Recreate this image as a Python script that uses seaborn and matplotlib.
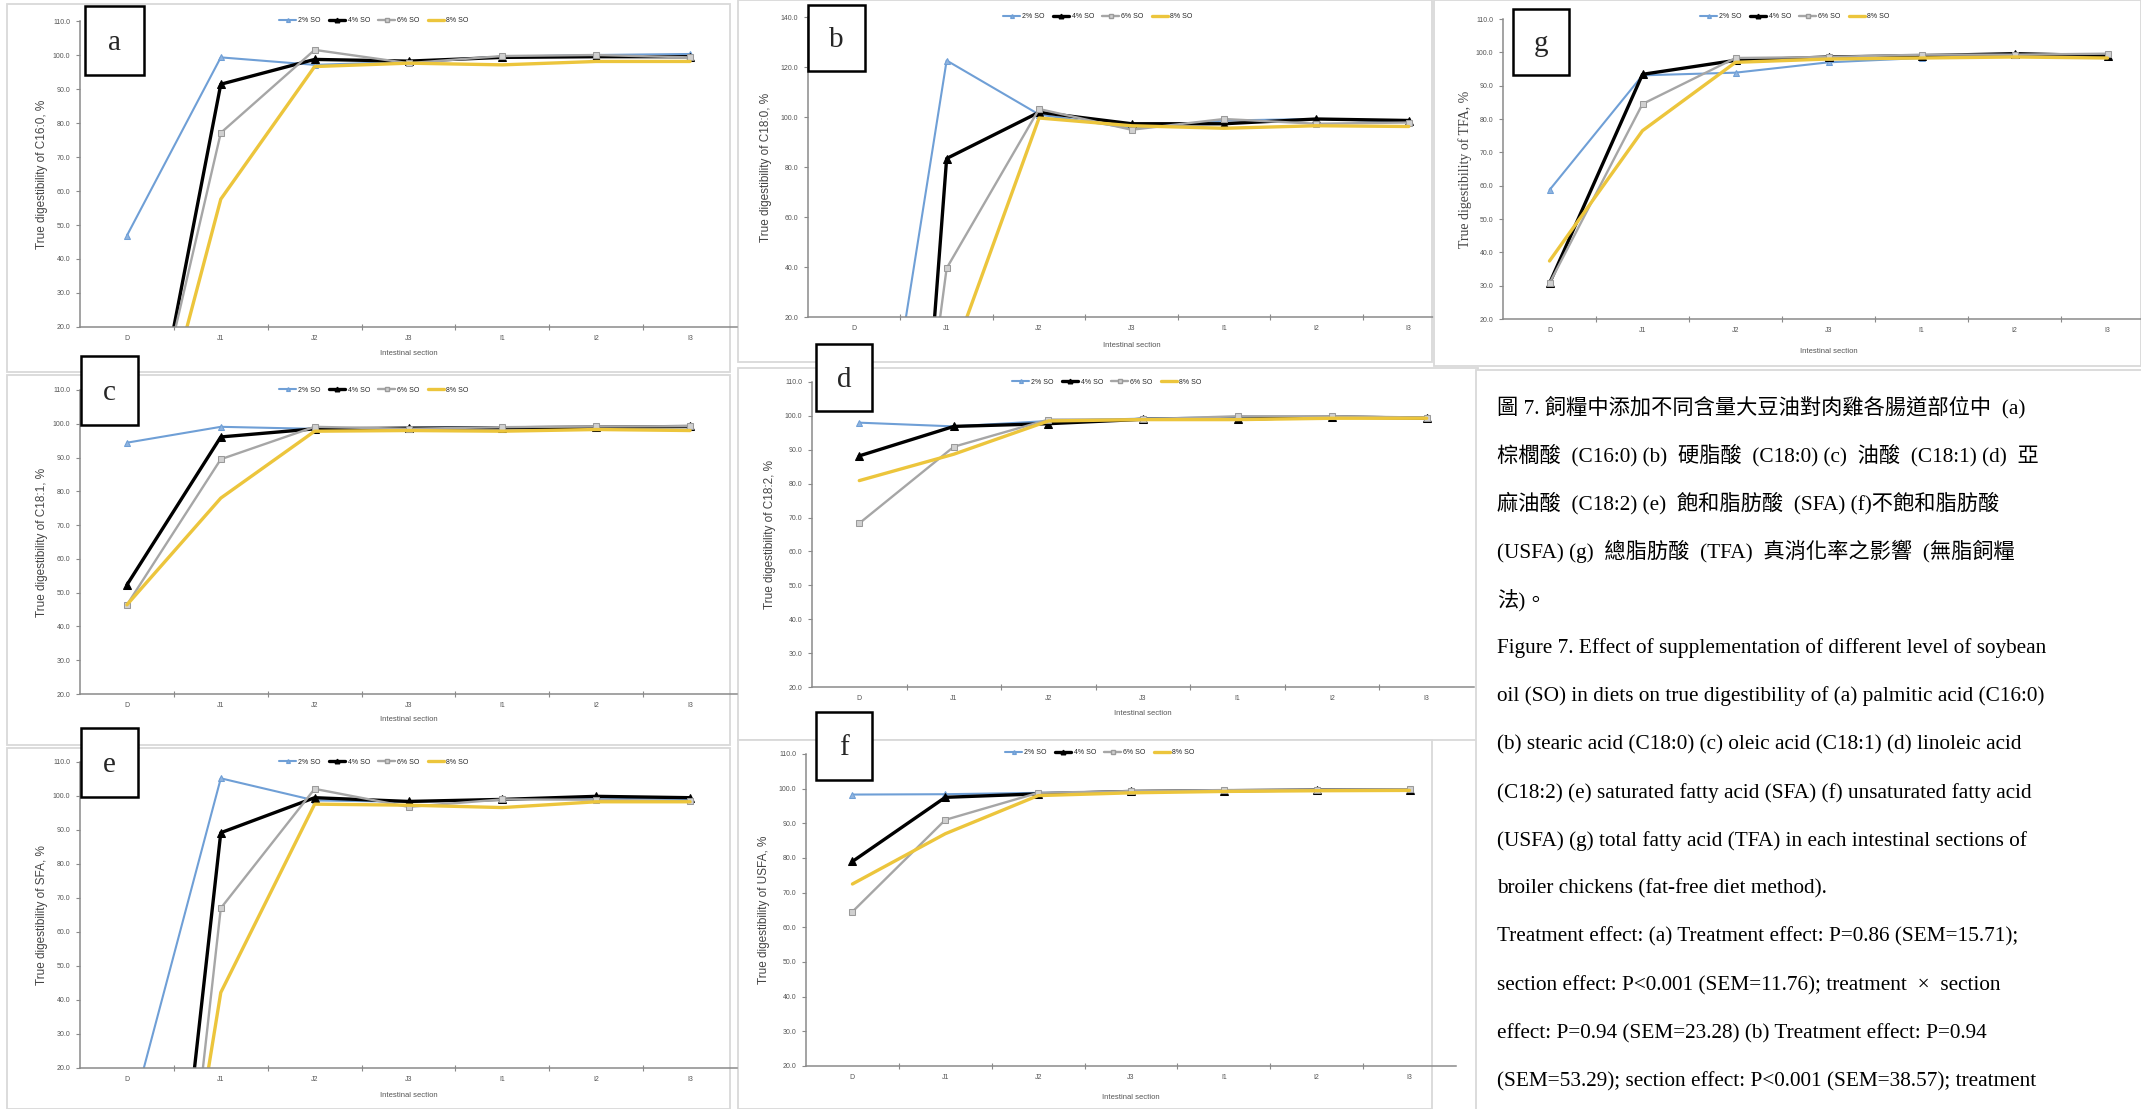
import numpy as np
import pandas as pd
import matplotlib
matplotlib.use("Agg")
import matplotlib.pyplot as plt
from matplotlib.patches import Rectangle
from matplotlib.lines import Line2D
from matplotlib.ticker import FormatStrFormatter, FixedLocator
import seaborn as sns

# ---------------------------------------------------------------- data
sections = ["D", "J1", "J2", "J3", "I1", "I2", "I3"]
levels = ["2% SO", "4% SO", "6% SO", "8% SO"]

# true digestibility (%) by intestinal section, one list per SO level
c16_0 = {
    "2% SO": [46.9, 99.3, 97.1, 98.0, 99.5, 100.0, 100.3],
    "4% SO": [-51.4, 91.4, 98.7, 98.2, 99.3, 99.5, 99.5],
    "6% SO": [-41.9, 77.1, 101.5, 97.6, 99.7, 100.0, 99.3],
    "8% SO": [-46.8, 57.6, 96.6, 97.6, 97.1, 98.1, 98.1],
}
c18_0 = {
    "2% SO": [-110.6, 122.6, 101.0, 95.5, 98.6, 99.2, 98.2],
    "4% SO": [-404.0, 83.4, 101.9, 97.3, 97.3, 99.2, 98.6],
    "6% SO": [-239.0, 39.5, 103.2, 94.9, 99.2, 97.3, 97.8],
    "8% SO": [-120.0, -2.4, 99.6, 96.5, 95.5, 96.5, 96.2],
}
c18_1 = {
    "2% SO": [94.4, 99.1, 98.5, 98.8, 99.0, 99.0, 99.0],
    "4% SO": [52.3, 96.1, 98.5, 98.7, 98.8, 99.0, 99.2],
    "6% SO": [46.4, 89.5, 99.1, 98.5, 99.0, 99.2, 99.3],
    "8% SO": [46.4, 78.0, 97.8, 98.0, 97.8, 98.3, 98.0],
}
c18_2 = {
    "2% SO": [98.0, 96.9, 98.5, 99.2, 99.7, 99.5, 99.3],
    "4% SO": [88.2, 96.9, 97.7, 99.0, 99.0, 99.7, 99.3],
    "6% SO": [68.3, 90.9, 98.9, 99.0, 99.9, 99.9, 99.5],
    "8% SO": [80.9, 88.7, 98.5, 98.9, 98.9, 99.3, 99.3],
}
sfa = {
    "2% SO": [1.3, 105.2, 98.7, 98.3, 99.0, 99.5, 99.0],
    "4% SO": [-158.0, 89.2, 99.5, 98.4, 99.0, 99.9, 99.5],
    "6% SO": [-180.0, 67.0, 102.1, 96.8, 99.0, 98.9, 98.5],
    "8% SO": [-128.0, 42.2, 97.6, 97.3, 96.6, 98.3, 98.3],
}
usfa = {
    "2% SO": [98.3, 98.4, 98.8, 99.2, 99.5, 99.6, 99.6],
    "4% SO": [79.0, 97.5, 98.5, 99.2, 99.4, 99.6, 99.6],
    "6% SO": [64.5, 91.0, 98.8, 99.3, 99.6, 99.7, 99.8],
    "8% SO": [72.5, 87.0, 98.0, 98.8, 99.2, 99.4, 99.5],
}
tfa = {
    "2% SO": [58.7, 93.1, 93.9, 97.0, 98.3, 99.3, 98.8],
    "4% SO": [30.7, 93.4, 97.6, 98.6, 99.0, 99.6, 99.0],
    "6% SO": [30.7, 84.5, 98.3, 98.6, 99.3, 99.3, 99.6],
    "8% SO": [37.4, 76.5, 97.0, 98.0, 98.3, 98.6, 98.3],
}

caption_lines = [
    "圖 7. 飼糧中添加不同含量大豆油對肉雞各腸道部位中  (a)",
    "棕櫚酸  (C16:0) (b)  硬脂酸  (C18:0) (c)  油酸  (C18:1) (d)  亞",
    "麻油酸  (C18:2) (e)  飽和脂肪酸  (SFA) (f)不飽和脂肪酸",
    "(USFA) (g)  總脂肪酸  (TFA)  真消化率之影響  (無脂飼糧",
    "法)。",
    "Figure 7. Effect of supplementation of different level of soybean",
    "oil (SO) in diets on true digestibility of (a) palmitic acid (C16:0)",
    "(b) stearic acid (C18:0) (c) oleic acid (C18:1) (d) linoleic acid",
    "(C18:2) (e) saturated fatty acid (SFA) (f) unsaturated fatty acid",
    "(USFA) (g) total fatty acid (TFA) in each intestinal sections of",
    "broiler chickens (fat-free diet method).",
    "Treatment effect: (a) Treatment effect: P=0.86 (SEM=15.71);",
    "section effect: P<0.001 (SEM=11.76); treatment  \u00d7  section",
    "effect: P=0.94 (SEM=23.28) (b) Treatment effect: P=0.94",
    "(SEM=53.29); section effect: P<0.001 (SEM=38.57); treatment",
]

# ---------------------------------------------------------------- styling
sns.set_theme(style="white")
plt.rcParams["font.family"] = ["Liberation Sans", "DejaVu Sans"]

W, H = 2141, 1109
fig = plt.figure(figsize=(W / 100, H / 100), dpi=100)
fig.patch.set_facecolor("white")

series_style = {
    "2% SO": dict(color="#6f9fd6", lw=1.5, marker="^", markersize=4.5,
                  markerfacecolor="#8fb4e0", markeredgecolor="#6f9fd6"),
    "4% SO": dict(color="#000000", lw=2.4, marker="^", markersize=5.5,
                  markerfacecolor="#000000", markeredgecolor="#000000"),
    "6% SO": dict(color="#a6a6a6", lw=1.7, marker="s", markersize=5,
                  markerfacecolor="#d0d0d0", markeredgecolor="#9a9a9a"),
    "8% SO": dict(color="#ecc53c", lw=2.4, marker=None),
}


def fx(x):
    return x / W


def fy(y):
    return 1 - y / H


def card(x0, y0, x1, y1, z):
    fig.add_artist(Rectangle((fx(x0), fy(y1)), (x1 - x0) / W, (y1 - y0) / H,
                             transform=fig.transFigure, facecolor="white",
                             edgecolor="#d9d9d9", lw=1.3, zorder=z))


def letter_box(tag, x0, y0, x1, y1):
    fig.add_artist(Rectangle((fx(x0), fy(y1)), (x1 - x0) / W, (y1 - y0) / H,
                             transform=fig.transFigure, facecolor="white",
                             edgecolor="black", lw=1.8, zorder=8))
    fig.text(fx((x0 + x1) / 2), fy((y0 + y1) / 2 + 2), tag, ha="center",
             va="center", fontsize=21, family="Liberation Serif", zorder=9)


def panel(data, acid, rect, yrange, card_rect, box, tag, legend_xy,
          xlabel_top, label_x, label_family="Liberation Sans", label_size=8.5,
          card_z=-1, ax_z=0):
    card(*card_rect, card_z)
    x0, y0, x1, y1 = rect
    ax = fig.add_axes([fx(x0), fy(y1), (x1 - x0) / W, (y1 - y0) / H])
    ax.set_zorder(ax_z)
    ax.set_facecolor("none")

    long = pd.DataFrame({
        "section": pd.Categorical(np.tile(sections, len(levels)),
                                  categories=sections, ordered=True),
        "level": np.repeat(levels, len(sections)),
        "value": np.concatenate([data[k] for k in levels]),
    })
    handles = []
    for lev in levels:
        sub = long[long["level"] == lev]
        st = series_style[lev]
        sns.lineplot(data=sub, x="section", y="value", ax=ax, sort=False,
                     legend=False, **st)
        handles.append(Line2D([], [], **st))

    lo, hi, step = yrange
    ax.set_ylim(lo, hi)
    ax.set_xlim(-0.5, len(sections) - 0.5)
    ax.yaxis.set_major_locator(FixedLocator(np.arange(lo, hi + 0.1, step)))
    ax.yaxis.set_major_formatter(FormatStrFormatter("%.1f"))
    ax.xaxis.set_minor_locator(FixedLocator(np.arange(0.5, len(sections) - 1, 1.0)))
    for s in ("top", "right"):
        ax.spines[s].set_visible(False)
    for s in ("left", "bottom"):
        ax.spines[s].set_color("#8a8a8a")
        ax.spines[s].set_linewidth(1.1)
    ax.tick_params(axis="y", which="major", length=3, width=0.8, color="#8a8a8a",
                   labelsize=5, labelcolor="#555555", pad=4, direction="out", left=True)
    ax.tick_params(axis="x", which="major", length=0, labelsize=5,
                   labelcolor="#555555", pad=6, bottom=True)
    ax.tick_params(axis="x", which="minor", length=4, width=0.8, color="#8a8a8a",
                   direction="inout", bottom=True)

    ax.set_xlabel("Intestinal section", fontsize=5.5, color="#555555")
    ax.xaxis.set_label_coords(0.5, -(xlabel_top - y1) / (y1 - y0))
    ax.set_ylabel(f"True digestibility of {acid}, %", fontsize=label_size,
                  family=label_family, color="#444444")
    ax.yaxis.set_label_coords((label_x - x0) / (x1 - x0), 0.5)

    ax.legend(handles, levels, loc="center", ncol=4, frameon=False,
              bbox_to_anchor=(fx(legend_xy[0]), fy(legend_xy[1])),
              bbox_transform=fig.transFigure, fontsize=5, handlelength=2.4,
              handletextpad=0.3, columnspacing=1.2, markerscale=0.6)
    letter_box(tag, *box)
    return ax


# left column
panel(c16_0, "C16:0", (80, 21, 737, 327), (20, 110, 10), (7, 4, 730, 372),
      (85, 6, 144, 75), "a", (374, 21), 350, 48)
panel(c18_1, "C18:1", (80, 390, 737, 694), (20, 110, 10), (7, 375, 730, 745),
      (81, 356, 138, 425), "c", (374, 390), 716, 48)
panel(sfa, "SFA", (80, 762, 737, 1068), (20, 110, 10), (7, 748, 730, 1109),
      (81, 728, 138, 797), "e", (374, 762), 1092, 48)

# middle column
panel(c18_0, "C18:0", (808, 17, 1455, 317), (20, 140, 20), (738, 0, 1432, 362),
      (808, 5, 865, 71), "b", (1098, 17), 342, 772)
panel(c18_2, "C18:2", (812, 382, 1474, 687), (20, 110, 10), (738, 368, 1478, 740),
      (816, 344, 872, 411), "d", (1107, 382), 710, 776)
panel(usfa, "USFA", (806, 754, 1456, 1066), (20, 110, 10), (738, 740, 1432, 1109),
      (816, 712, 872, 780), "f", (1100, 753), 1094, 770)

# right column: total fatty acids, drawn above the neighbouring panel
panel(tfa, "TFA", (1503, 19, 2154, 319), (20, 110, 10), (1434, 0, 2141, 366),
      (1513, 9, 1569, 75), "g", (1795, 17), 348, 1472,
      label_family="Liberation Serif", label_size=10, card_z=0.5, ax_z=1)

# caption block
card(1476, 370, 2145, 1112, 2)
y_pos = [407 + 48.2 * i for i in range(len(caption_lines))]
for line, yy in zip(caption_lines, y_pos):
    fig.text(fx(1497), fy(yy), line, ha="left", va="center", fontsize=15.3,
             family=["Liberation Serif", "Noto Sans CJK TC"], color="#000000",
             zorder=6)

fig.savefig("out.png", dpi=100, facecolor="white")
